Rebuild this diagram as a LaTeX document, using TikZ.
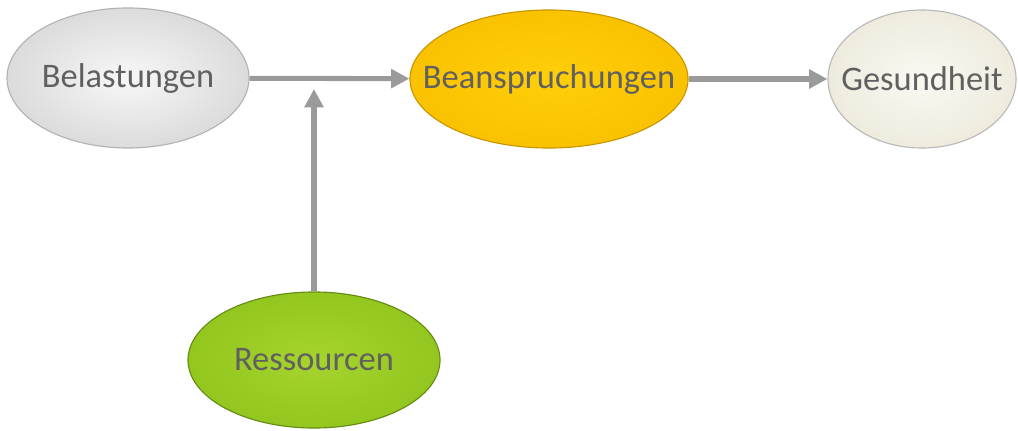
\documentclass[tikz,border=0pt]{standalone}
\usepackage{fontspec}
\setmainfont{Carlito}
\usetikzlibrary{shapes.geometric,arrows.meta}
\definecolor{txtgray}{HTML}{606060}
\definecolor{arrgray}{HTML}{9A9A9A}
\begin{document}
\begin{tikzpicture}[x=0.025cm,y=0.025cm,>={Triangle[length=13pt,width=13pt]},
		blob/.style={ellipse, inner sep=0pt, line width=0.8pt,
			label={[text=txtgray, font=\fontsize{24.5}{28}\selectfont]center:#1}},
		arr/.style={->, draw=arrgray, line width=3.6pt}]
			\useasboundingbox (0,0) rectangle (1018,430);
			\node[blob=Belastungen, minimum width=6.05cm, minimum height=3.5cm, draw=gray!60, inner color=gray!6, outer color=gray!28] (belast) at (128,352) {};
			\node[blob=Beanspruchungen, minimum width=6.95cm, minimum height=3.45cm, draw={rgb,255:red,200;green,150;blue,0}, inner color={rgb,255:red,255;green,206;blue,10}, outer color={rgb,255:red,250;green,194;blue,0}] (beansp) at (549,351) {};
			\node[blob=Gesundheit, minimum width=4.7cm, minimum height=3.45cm, draw=gray!55, inner color={rgb,255:red,250;green,249;blue,242}, outer color={rgb,255:red,238;green,235;blue,222}] (gesund) at (922,351) {};
			\node[blob=Ressourcen, minimum width=6.3cm, minimum height=3.4cm, draw={rgb,255:red,100;green,140;blue,20}, inner color={rgb,255:red,165;green,212;blue,45}, outer color={rgb,255:red,148;green,198;blue,32}] (ressour) at (314,70) {};
			\coordinate (knick) at (314,341);
			\draw[arr] (belast) -- (beansp);
			\draw[arr] (beansp) -- (gesund);
			\draw[arr] (ressour) -- (knick);
		\end{tikzpicture}
\end{document}
